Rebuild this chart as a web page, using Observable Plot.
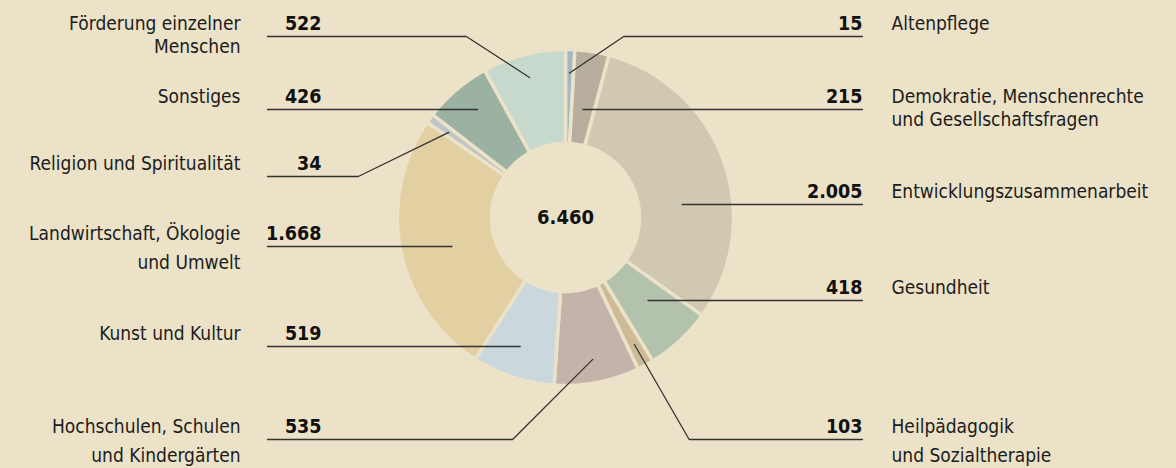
<!DOCTYPE html>
<html><head><meta charset="utf-8">
<script src="https://cdn.jsdelivr.net/npm/d3@7"></script>
<script src="https://cdn.jsdelivr.net/npm/@observablehq/plot@0.6"></script>
<style>
html,body{margin:0;padding:0;background:#ebe2c8;}
#chart svg{display:block;}
</style></head><body><div id="chart"></div>
<script>
// ---------- DATA (clockwise from 12 o'clock) ----------
const categories = [
  "Altenpflege",
  "Demokratie, Menschenrechte\nund Gesellschaftsfragen",
  "Entwicklungszusammenarbeit",
  "Gesundheit",
  "Heilpädagogik\nund Sozialtherapie",
  "Hochschulen, Schulen\nund Kindergärten",
  "Kunst und Kultur",
  "Landwirtschaft, Ökologie\nund Umwelt",
  "Religion und Spiritualität",
  "Sonstiges",
  "Förderung einzelner\nMenschen"
];
const values = [15, 215, 2005, 418, 103, 535, 519, 1668, 34, 426, 522];
const valueLabels = ["15", "215", "2.005", "418", "103", "535", "519", "1.668", "34", "426", "522"];
const totalLabel = "6.460";
const colors = ["#a3b8c6", "#b7ae9e", "#d1c8b2", "#b2c2ad", "#cdbb98", "#c4b3aa",
                "#cad8dd", "#e2cfa2", "#bfc4c6", "#9bb1a1", "#c7d9cd"];

// ---------- LAYOUT ----------
const W = 1176, H = 468;
const CX = 565, CY = 217;           // donut centre (px)
const R_OUT = 168, R_IN = 74;       // radii (px)
const GAP = 3.5;                    // separator width
const MIN_SPAN = 3.2;               // minimum drawn span (deg) for tiny slices
const BG = "#ebe2c8";
const INK = "#1c1c1c";
const LINE = "#333";
const FONT = "'DejaVu Sans Condensed','DejaVu Sans','Noto Sans',sans-serif";
const labelSide = ["R","R","R","R","R","L","L","L","L","L","L"];
const ruleRow = [36, 109, 204, 300, 439, 439, 346, 246, 176, 109, 36];   // y of each label's rule
const lineGap = [23, 23, 23, 23, 29, 29, 29, 29, 23, 23, 23];
const leaderSlope = [34, 0, 0, 0, 60, 45, 0, 0, 26, 0, 33];               // deg, for bent leaders
const LEFT_RULE = 267, LEFT_NUM = 321, LEFT_TEXT = 240;
const RIGHT_RULE = 862, RIGHT_NUM = 862, RIGHT_TEXT = 891;

// ---------- GEOMETRY (centre units, y up) ----------
const deg = Math.PI / 180;
const total = d3.sum(values);
const raw = values.map(v => v / total * 360);
const small = raw.map(a => a < MIN_SPAN);
const extra = d3.sum(raw, (a, i) => small[i] ? MIN_SPAN - a : 0);
const bigSum = d3.sum(raw, (a, i) => small[i] ? 0 : a);
const spans = raw.map((a, i) => small[i] ? MIN_SPAN : a * (1 - extra / bigSum));
let acc = 0;
const slices = categories.map((c, i) => {
  const a0 = acc; acc += spans[i];
  return {cat: c, i, a0: a0 * deg, a1: acc * deg};
});
const px = (r, a) => r * Math.sin(a);
const py = (r, a) => r * Math.cos(a);

const slicePts = [];
for (const s of slices) {
  const n = Math.max(2, Math.ceil((s.a1 - s.a0) / (0.5 * deg)));
  const outer = d3.range(n + 1).map(k => s.a0 + (s.a1 - s.a0) * k / n);
  for (const a of outer) slicePts.push({cat: s.cat, x: px(R_OUT, a), y: py(R_OUT, a)});
  for (const a of outer.slice().reverse()) slicePts.push({cat: s.cat, x: px(R_IN, a), y: py(R_IN, a)});
  slicePts.push({cat: s.cat, x: px(R_OUT, s.a0), y: py(R_OUT, s.a0)});
}

// leaders
const leaderPts = [];
const numbers = [];
const labelLines = [];
slices.forEach(s => {
  const i = s.i;
  const yr = CY - ruleRow[i];
  const right = labelSide[i] === "R";
  // intersection of the rule's row with the slice
  const xs = [];
  for (let x = -R_OUT; x <= R_OUT; x += 0.5) {
    const r = Math.hypot(x, yr);
    if (r < R_IN + GAP || r > R_OUT - 10) continue;
    let a = Math.atan2(x, yr); if (a < 0) a += 2 * Math.PI;
    if (a > s.a0 + 0.5 * deg && a < s.a1 - 0.5 * deg) xs.push(x);
  }
  const endX = right ? RIGHT_RULE - CX : LEFT_RULE - CX;
  let pts;
  if (xs.length > 4) {
    const ax = (d3.min(xs) + d3.max(xs)) / 2;
    pts = [[ax, yr], [endX, yr]];
  } else {
    const am = (s.a0 + s.a1) / 2, rr = 0.86 * R_OUT;
    const ax = px(rr, am), ay = py(rr, am);
    const run = Math.abs(yr - ay) / Math.tan(leaderSlope[i] * deg);
    const ex = ax + (right ? run : -run);
    pts = [[ax, ay], [ex, yr], [endX, yr]];
  }
  pts.forEach(p => leaderPts.push({cat: s.cat, x: p[0], y: p[1]}));
  const base = ruleRow[i] - 7;
  numbers.push({x: (right ? RIGHT_NUM : LEFT_NUM) - CX, y: CY - base, t: valueLabels[i]});
  s.cat.split("\n").forEach((ln, k) => labelLines.push({
    x: (right ? RIGHT_TEXT : LEFT_TEXT) - CX, y: CY - (base + k * lineGap[i]), t: ln,
    anchor: right ? "start" : "end"
  }));
});

const chart = Plot.plot({
  width: W, height: H,
  margin: 0,
  style: {background: BG, fontFamily: FONT, color: INK},
  x: {domain: [-CX, W - CX], axis: null},
  y: {domain: [-(H - CY), CY], axis: null},
  color: {domain: categories, range: colors},
  marks: [
    Plot.line(slicePts, {x: "x", y: "y", z: "cat", fill: "cat", stroke: BG, strokeWidth: GAP, strokeLinejoin: "round", curve: "linear"}),
    Plot.line(leaderPts, {x: "x", y: "y", z: "cat", stroke: LINE, strokeWidth: 1.3, curve: "linear"}),
    Plot.text(numbers, {x: "x", y: "y", text: "t", textAnchor: "end", lineAnchor: "bottom", fontSize: 19.5, fontWeight: "bold", fill: "#111"}),
    Plot.text(labelLines.filter(d => d.anchor === "end"), {x: "x", y: "y", text: "t", textAnchor: "end", lineAnchor: "bottom", fontSize: 19, fill: INK}),
    Plot.text(labelLines.filter(d => d.anchor === "start"), {x: "x", y: "y", text: "t", textAnchor: "start", lineAnchor: "bottom", fontSize: 19, fill: INK}),
    Plot.text([totalLabel], {x: () => 0, y: () => 0, text: d => d, textAnchor: "middle", lineAnchor: "middle", fontSize: 20, fontWeight: "bold", fill: "#111"})
  ]
});
document.getElementById("chart").append(chart);
</script>
</body></html>
